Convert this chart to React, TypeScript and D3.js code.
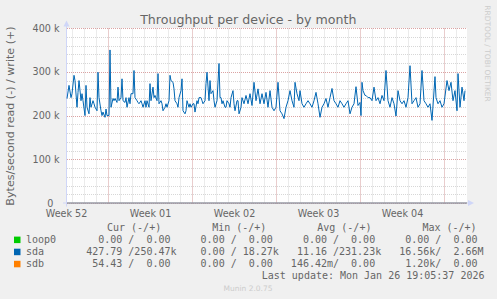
import React from 'react';
import * as d3 from 'd3';

// ---------- data ----------
const chartTitle = 'Throughput per device - by month';
const yAxisLabel = 'Bytes/second read (-) / write (+)';
const yTickValues = [0, 100000, 200000, 300000, 400000];
const yMax = 400000;
const rangeStartUTC = Date.UTC(2025, 11, 24, 13, 0, 0);
const rangeEndUTC = Date.UTC(2026, 0, 26, 21, 0, 0);
const rrdStepHours = 2;

// RRD row index (2-hour steps from range start) and sda write rate in kB/s
const sdaRows = [
  0, 2, 4, 5, 7, 8, 10, 11, 12, 14, 15, 16, 18, 19, 20, 22, 23, 24, 26, 27, 28, 30, 31, 32, 34, 35, 36, 38, 39, 40,
  42, 43, 44, 46, 47, 48, 50, 51, 52, 54, 55, 56, 58, 59, 60, 62, 63, 64, 66, 67, 68, 70, 71, 72, 74, 75, 76, 78, 79, 80,
  82, 83, 84, 86, 87, 88, 90, 91, 92, 94, 95, 96, 98, 99, 100, 102, 103, 104, 106, 107, 108, 110, 111, 112, 114, 115, 116, 118, 119, 120,
  122, 123, 124, 126, 127, 128, 130, 131, 132, 134, 135, 136, 138, 139, 140, 142, 143, 144, 146, 147, 148, 150, 152, 153, 154, 155, 156, 158, 159, 160,
  162, 163, 164, 166, 167, 168, 170, 171, 172, 174,
  175, 177, 179, 181, 183, 185, 187, 189, 191, 193, 195, 197, 199, 201, 203, 205, 207, 209, 211, 213, 215, 217, 219, 221, 223, 225, 227, 228, 230, 232,
  233, 235, 237, 239, 241, 243, 245, 247, 249, 251, 253, 255, 257, 259, 261, 263, 265, 267, 269, 271, 273, 275, 277, 279, 281, 283, 285, 287, 289, 291,
  293, 294, 295, 296, 298, 299, 301, 303, 305, 307, 309, 311, 313, 315, 317, 319, 321, 323, 325, 327, 329, 331, 333, 335, 337, 339, 341, 343, 345, 347,
  349, 351, 353, 355, 357, 359, 361, 363, 365, 368, 369, 371, 373, 375, 377, 380, 382, 384, 386, 388, 390, 391, 393, 395, 397, 398,
];
const sdaWriteK = [
  240, 270, 242, 251, 293, 281, 220, 254, 281, 235, 251, 235, 201, 270, 220, 205, 242, 220, 235, 228, 220, 212, 300, 242, 212, 201, 209, 197, 216, 201,
  201, 351, 220, 240, 235, 240, 231, 266, 235, 242, 285, 235, 231, 242, 220, 242, 228, 251, 251, 304, 242, 235, 231, 228, 235, 228, 220, 235, 220, 235,
  220, 274, 235, 266, 242, 247, 235, 297, 228, 235, 228, 212, 220, 228, 220, 235, 293, 281, 277, 262, 235, 228, 220, 242, 258, 285, 212, 205, 212, 235,
  220, 228, 220, 228, 228, 209, 235, 228, 242, 242, 235, 228, 235, 274, 300, 235, 281, 251, 258, 235, 220, 235, 320, 242, 242, 228, 235, 220, 220, 235,
  228, 220, 242, 258, 228, 212, 235, 235, 205, 220,
  242, 228, 247, 228, 251, 224, 277, 235, 262, 228, 251, 228, 254, 220, 258, 220, 212, 220, 277, 212, 205, 194, 220, 235, 258, 235, 220, 277, 251, 235,
  258, 228, 220, 228, 235, 228, 220, 235, 254, 228, 197, 220, 228, 240, 220, 242, 263, 235, 228, 220, 235, 228, 220, 228, 235, 205, 220, 228, 267, 224,
  231, 201, 277, 258, 247, 247, 242, 242, 235, 266, 235, 242, 228, 247, 235, 304, 235, 220, 242, 228, 200, 258, 235, 228, 235, 220, 242, 315, 228, 235,
  242, 220, 228, 304, 235, 228, 220, 228, 190, 290, 242, 228, 235, 220, 228, 281, 258, 277, 235, 258, 212, 297, 220, 266, 235, 258,
];

const legendNames = ['loop0', 'sda', 'sdb'];
const legendColors = ['#00cc00', '#0066b3', '#ff8000'];
const legendHeaders = ['Cur (-/+)', 'Min (-/+)', 'Avg (-/+)', 'Max (-/+)'];
const legendCur = ['  0.00 /  0.00 ', '427.79 /250.47k', ' 54.43 /  0.00 '];
const legendMin = ['  0.00 /  0.00 ', '  0.00 / 18.27k', '  0.00 /  0.00 '];
const legendAvg = ['  0.00 /  0.00 ', ' 11.16 /231.23k', '146.42m/  0.00 '];
const legendMax = ['  0.00 /  0.00 ', ' 16.56k/  2.66M', '  1.20k/  0.00 '];
const lastUpdate = 'Last update: Mon Jan 26 19:05:37 2026';
const watermark = 'Munin 2.0.75';
const sideText = 'RRDTOOL / TOBI OETIKER';

// ---------- component ----------
export default function App() {
  const W = 497, H = 299;
  const left = 67, right = 467, top = 28.5, bottom = 203.5;
  const sans = "'DejaVu Sans', sans-serif";
  const mono = "'DejaVu Sans Mono', monospace";
  const fontColor = '#666666';
  const axisColor = '#cfd6f8';

  const start = new Date(rangeStartUTC);
  const end = new Date(rangeEndUTC);
  const x = d3.scaleUtc().domain([start, end]).range([left, right]);
  const y = d3.scaleLinear().domain([0, yMax]).range([bottom, top]);

  const points = sdaRows.map((r, i) => ({
    t: new Date(rangeStartUTC + r * rrdStepHours * 3600e3),
    v: sdaWriteK[i] * 1000,
  }));
  const linePath = d3
    .line<{ t: Date; v: number }>()
    .x((d) => x(d.t))
    .y((d) => y(d.v))(points) || '';

  const days = d3.utcDay.range(start, end);
  const sundays = d3.utcSunday.range(start, end);
  const minorY = d3.range(0, yMax + 1, 20000);
  const weekCenters = d3.utcSunday
    .range(d3.utcDay.offset(start, -7), end)
    .map((s) => d3.utcHour.offset(s, 84))
    .filter((c) => x(c) >= left - 2 && x(c) <= right);
  const weekFmt = d3.utcFormat('%V');

  const crispY = (v: number) => Math.floor(y(v)) + 0.5;
  const cw = 6.02;
  const legendX = 26;
  const rowBase = 230.5;
  const rowGap = 12.1;

  return (
    <svg
      width={W}
      height={H}
      style={{ position: 'absolute', left: 0, top: 0, background: '#f0f0f0' }}
    >
      <rect x={0} y={0} width={W} height={H} fill="#f0f0f0" />
      <rect x={left} y={top - 0.5} width={right - left} height={bottom - top} fill="#ffffff" />

      {/* minor grid */}
      <g stroke="rgba(150,150,150,0.38)" strokeWidth={1} strokeDasharray="1,1">
        {days.map((d, i) => (
          <line key={'dv' + i} x1={x(d)} x2={x(d)} y1={top} y2={bottom} />
        ))}
        {minorY.map((v, i) => (
          <line key={'mh' + i} x1={left} x2={right} y1={crispY(v)} y2={crispY(v)} />
        ))}
      </g>
      {/* major grid */}
      <g stroke="rgba(225,90,90,0.42)" strokeWidth={1} strokeDasharray="1,1">
        {sundays.map((d, i) => (
          <line key={'sv' + i} x1={x(d)} x2={x(d)} y1={top} y2={bottom} />
        ))}
        {yTickValues.map((v, i) => (
          <line key={'yh' + i} x1={left} x2={right} y1={crispY(v)} y2={crispY(v)} />
        ))}
      </g>

      {/* axes */}
      <line x1={left - 0.5} x2={left - 0.5} y1={bottom + 3} y2={top - 4} stroke={axisColor} />
      <line x1={left - 4} x2={right + 3} y1={bottom - 0.5} y2={bottom - 0.5} stroke={axisColor} />
      <path d={`M${left - 3.5},${top - 2} L${left - 0.5},${top - 8} L${left + 2.5},${top - 2} Z`} fill={axisColor} />
      <path d={`M${right + 1},${bottom - 3.5} L${right + 7},${bottom - 0.5} L${right + 1},${bottom + 2.5} Z`} fill={axisColor} />

      {/* data line */}
      <path d={linePath} fill="none" stroke="#0066b3" strokeWidth={1} strokeLinejoin="round" />

      {/* zero rule */}
      <line x1={left} x2={right} y1={bottom - 0.5} y2={bottom - 0.5} stroke="#7a7a7a" />

      {/* title */}
      <text x={248.3} y={23.8} textAnchor="middle" fontFamily={sans} fontSize={12.6} fill={fontColor}>
        {chartTitle}
      </text>

      {/* y label */}
      <text
        transform={`translate(13.5, ${(top + bottom) / 2}) rotate(-90)`}
        textAnchor="middle"
        fontFamily={sans}
        fontSize={11.1}
        fill={fontColor}
      >
        {yAxisLabel}
      </text>

      {/* y tick labels */}
      {yTickValues.map((v, i) => (
        <text
          key={'yt' + i}
          x={59.5}
          y={y(v) + 3.2}
          textAnchor="end"
          fontFamily={sans}
          fontSize={9.6}
          fill={fontColor}
          style={{ whiteSpace: 'pre' }}
        >
          {v === 0 ? '0  ' : `${v / 1000} k`}
        </text>
      ))}

      {/* x labels */}
      {weekCenters.map((c, i) => (
        <text key={'xt' + i} x={x(c)} y={216.5} textAnchor="middle" fontFamily={sans} fontSize={9.6} fill={fontColor}>
          {`Week ${weekFmt(c)}`}
        </text>
      ))}

      {/* side watermark */}
      <text
        transform="translate(485, 53.5) rotate(90)"
        textAnchor="middle"
        fontFamily={sans}
        fontSize={7.5}
        fill="#cccccc"
      >
        {sideText}
      </text>

      {/* legend headers */}
      {legendHeaders.map((h, i) => (
        <text
          key={'lh' + i}
          x={107 + i * 105.13}
          y={rowBase}
          fontFamily={mono}
          fontSize={10}
          fill={fontColor}
          style={{ whiteSpace: 'pre' }}
        >
          {h}
        </text>
      ))}

      {/* legend rows */}
      {legendNames.map((n, i) => {
        const by = rowBase + rowGap * (i + 1);
        const row =
          n.padEnd(10, ' ') + legendCur[i] + '  ' + legendMin[i] + '  ' + legendAvg[i] + '  ' + legendMax[i];
        return (
          <g key={'lr' + i}>
            <rect x={14} y={by - 6} width={6.5} height={6.5} fill={legendColors[i]} />
            <text
              x={legendX}
              y={by}
              fontFamily={mono}
              fontSize={10}
              fill={fontColor}
              style={{ whiteSpace: 'pre' }}
              textLength={row.length * cw}
            >
              {row}
            </text>
          </g>
        );
      })}

      <text
        x={484.5}
        y={rowBase + rowGap * 4}
        textAnchor="end"
        fontFamily={mono}
        fontSize={10}
        fill={fontColor}
        style={{ whiteSpace: 'pre' }}
      >
        {lastUpdate}
      </text>

      <text x={248} y={290.5} textAnchor="middle" fontFamily={sans} fontSize={7.5} fill="#cccccc">
        {watermark}
      </text>
    </svg>
  );
}
